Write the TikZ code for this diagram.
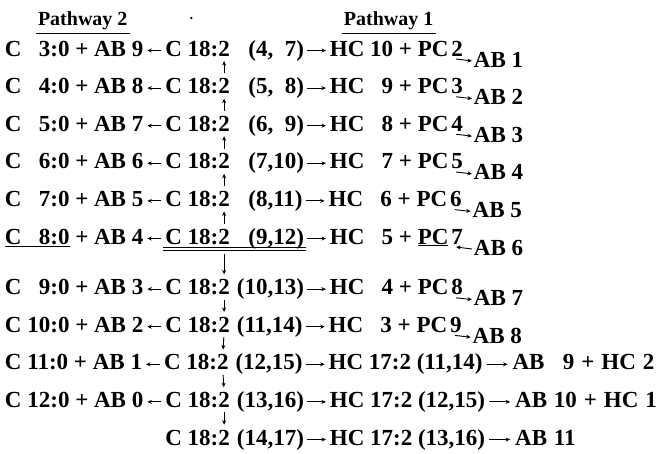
\documentclass[tikz,border=0pt]{standalone}
\usepackage{fontspec}
\setmainfont{Liberation Serif}
\usetikzlibrary{arrows.meta}
\newcommand{\lgap}{22pt}
\newcommand{\rgap}{26pt}
\newcommand{\qgap}{30pt}
\newcommand{\ws}{\hspace{0.3em}}
\newcommand{\stdrow}[7]{%
  \node[txt] (L#1) at (5,#2) {#3};
  \node[txt] (C#1) at ([xshift=\lgap]L#1.base east) {C 18:};
  \node[txt] (D#1) at (C#1.base east) {2};
  \node[txt] (P#1) at ([xshift=7pt]D#1.base east) {#4};
  \node[txt] (H#1) at ([xshift=\rgap]P#1.base east) {#5};
  \node[txt] (E#1) at ([xshift=3pt]H#1.base east) {#6};
  \node[txt] (A#1) at ([xshift=11pt,yshift=-11pt]E#1.base east) {#7};
  \draw[arr,shorten <=4pt,shorten >=4pt] ([yshift=5.5pt]C#1.base west) -- ([yshift=5.5pt]L#1.base east);
  \draw[arr,shorten <=3pt,shorten >=4pt] ([yshift=5.5pt]P#1.base east) -- ([yshift=5.5pt]H#1.base west);
}
\begin{document}
\begin{tikzpicture}[x=1pt,y=-1pt,
  txt/.style={inner sep=0pt,outer sep=0pt,anchor=base west,
    font=\fontsize{23}{25}\selectfont\bfseries},
  head/.style={inner sep=0pt,outer sep=0pt,anchor=base west,
    font=\fontsize{20}{22}\selectfont\bfseries},
  arr/.style={-{Stealth[length=4.5pt,width=4pt]},line width=0.9pt},
  uline/.style={line width=0.9pt}]
\useasboundingbox (0,0) rectangle (667,453);

% rows
\stdrow{1}{56}{C \hphantom{1}3:0 + AB 9}{\hphantom{0}(4,\hphantom{1}7)}{HC 10 + PC}{2}{AB 1}
\stdrow{2}{93.6}{C \hphantom{1}4:0 + AB 8}{\hphantom{0}(5,\hphantom{1}8)}{HC \hphantom{1}9 + PC}{3}{AB 2}
\stdrow{3}{131.2}{C \hphantom{1}5:0 + AB 7}{\hphantom{0}(6,\hphantom{1}9)}{HC \hphantom{1}8 + PC}{4}{AB 3}
\stdrow{4}{168.8}{C \hphantom{1}6:0 + AB 6}{\hphantom{0}(7,10)}{HC \hphantom{1}7 + PC}{5}{AB 4}
\stdrow{5}{206.4}{C \hphantom{1}7:0 + AB 5}{\hphantom{0}(8,11)}{HC \hphantom{1}6 + PC}{6}{AB 5}
\stdrow{6}{244}{\underline{C \hphantom{1}8:0} + AB 4}{\hphantom{0}(9,12)}{HC \hphantom{1}5 + \underline{PC}}{7}{AB 6}
\stdrow{7}{294.6}{C \hphantom{1}9:0 + AB 3}{(10,13)}{HC \hphantom{1}4 + PC}{8}{AB 7}
\stdrow{8}{332.2}{C 10:0 + AB 2}{(11,14)}{HC \hphantom{1}3 + PC}{9}{AB 8}

% header
\node[head] (T2) at (38,25) {Pathway 2};
\node[head] (T1) at ([xshift=14pt]H1.base west |- T2.base) {Pathway 1};
\node[circle,fill,inner sep=0pt,minimum size=2.5pt] (dot) at ([xshift=26pt,yshift=7pt]C1.base west |- T2.base) {};
\draw[uline] ([xshift=-2pt,yshift=-8pt]T2.base west) -- ([xshift=3pt,yshift=-8pt]T2.base east);
\draw[uline] ([xshift=-2pt,yshift=-8pt]T1.base west) -- ([xshift=3pt,yshift=-8pt]T1.base east);

% rows 9-10
\node[txt] (L9) at (5,369.8) {C 11:0 + AB 1};
\node[txt] (C9) at ([xshift=\lgap]L9.base east) {C 18:};
\node[txt] (D9) at (C9.base east) {2};
\node[txt] (P9) at ([xshift=7pt]D9.base east) {(12,15)};
\node[txt] (H9) at ([xshift=\rgap]P9.base east) {HC 17:2 (11,14)};
\node[txt] (Q9) at ([xshift=\qgap]H9.base east) {AB\ws\hphantom{1}9\ws+\ws HC\ws 2};
\draw[arr,shorten <=4pt,shorten >=4pt] ([yshift=5.5pt]C9.base west) -- ([yshift=5.5pt]L9.base east);
\draw[arr,shorten <=3pt,shorten >=4pt] ([yshift=5.5pt]P9.base east) -- ([yshift=5.5pt]H9.base west);
\draw[arr,shorten <=4pt,shorten >=5pt] ([yshift=5.5pt]H9.base east) -- ([yshift=5.5pt]Q9.base west);

\node[txt] (L10) at (5,407.4) {C 12:0 + AB 0};
\node[txt] (C10) at ([xshift=\lgap]L10.base east) {C 18:};
\node[txt] (D10) at (C10.base east) {2};
\node[txt] (P10) at ([xshift=7pt]D10.base east) {(13,16)};
\node[txt] (H10) at ([xshift=\rgap]P10.base east) {HC 17:2 (12,15)};
\node[txt] (Q10) at ([xshift=\qgap]H10.base east) {AB\ws 10\ws+\ws HC\ws 1};
\draw[arr,shorten <=4pt,shorten >=4pt] ([yshift=5.5pt]C10.base west) -- ([yshift=5.5pt]L10.base east);
\draw[arr,shorten <=3pt,shorten >=4pt] ([yshift=5.5pt]P10.base east) -- ([yshift=5.5pt]H10.base west);
\draw[arr,shorten <=4pt,shorten >=5pt] ([yshift=5.5pt]H10.base east) -- ([yshift=5.5pt]Q10.base west);

% row 11
\coordinate (y11) at (0,445);
\node[txt] (C11) at (C10.base west |- y11) {C 18:};
\node[txt] (D11) at (C11.base east) {2};
\node[txt] (P11) at ([xshift=7pt]D11.base east) {(14,17)};
\node[txt] (H11) at ([xshift=\rgap]P11.base east) {HC 17:2 (13,16)};
\node[txt] (Q11) at ([xshift=\qgap]H11.base east) {AB\ws 11};
\draw[arr,shorten <=3pt,shorten >=4pt] ([yshift=5.5pt]P11.base east) -- ([yshift=5.5pt]H11.base west);
\draw[arr,shorten <=4pt,shorten >=5pt] ([yshift=5.5pt]H11.base east) -- ([yshift=5.5pt]Q11.base west);

% double underline row 6
\draw[uline] ([xshift=-2pt,yshift=-3pt]C6.base west) -- ([xshift=2pt,yshift=-3pt]P6.base east);
\draw[uline] ([xshift=-2pt,yshift=-6.5pt]C6.base west) -- ([xshift=2pt,yshift=-6.5pt]P6.base east);

% vertical arrows
\foreach \a/\b in {2/1,3/2,4/3,5/4,6/5}
  \draw[arr,shorten <=5pt,shorten >=5pt] (D\a.north) -- (D\b.south);
\draw[arr,shorten <=10pt,shorten >=5pt] (D6.south) -- (D7.north);
\foreach \a/\b in {7/8,8/9,9/10,10/11}
  \draw[arr,shorten <=5pt,shorten >=5pt] (D\a.south) -- (D\b.north);

% diagonal arrows PC n -> AB m
\foreach \i in {1,2,3,4,5,7,8}
  \draw[arr] ([xshift=-1pt,yshift=-3pt]E\i.south) -- ([xshift=-2pt,yshift=6pt]A\i.base west);
\draw[arr] ([xshift=-2pt,yshift=6pt]A6.base west) -- ([xshift=-1pt,yshift=-3pt]E6.south);
\end{tikzpicture}
\end{document}
